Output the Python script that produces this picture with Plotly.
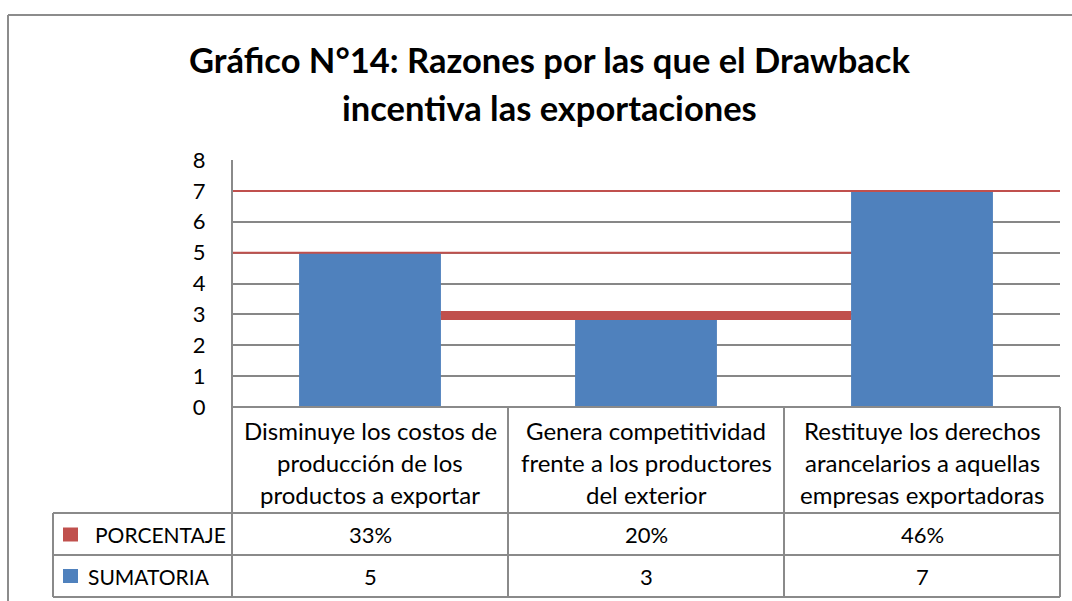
import plotly.graph_objects as go

# ---------------- data ----------------
categories = [
    "Disminuye los costos de<br>producción de los<br>productos a exportar",
    "Genera competitividad<br>frente a los productores<br>del exterior",
    "Restituye los derechos<br>arancelarios a aquellas<br>empresas exportadoras",
]
sumatoria = [5, 3, 7]
porcentaje = ["33%", "20%", "46%"]
series_names = ["PORCENTAJE", "SUMATORIA"]
y_ticks = [0, 1, 2, 3, 4, 5, 6, 7, 8]
title_lines = ["Gráfico N°14: Razones por las que el Drawback",
               "incentiva las exportaciones"]

# ---------------- style ----------------
BLUE = "#4F81BD"
RED = "#C0504D"
GRID = "#878787"
LINE = "#8A8A8A"
FONT = "Lato"
W, H = 1072, 601
L, R, T, B = 232, 1060, 160, 407
BARGAP = 0.486
HW = (1 - BARGAP) / 2
CAT_SIZE = 24
TXT_SIZE = 22


def px(x):
    return (x - L) / (R - L)


def py(y):
    return (B - y) / (B - T)


fig = go.Figure()
fig.add_trace(go.Bar(
    x=list(range(len(categories))), y=sumatoria, name=series_names[1],
    marker=dict(color=BLUE, line=dict(width=0)), showlegend=False,
    hoverinfo="skip",
))

shapes = []
ann = []

# red series lines (as drawn in the original)
n = len(sumatoria)
shapes.append(dict(type="line", xref="x", yref="y", x0=-0.5, x1=n - 0.5,
                   y0=sumatoria[2], y1=sumatoria[2], layer="above",
                   line=dict(color=RED, width=2)))
shapes.append(dict(type="line", xref="x", yref="y", x0=-0.5, x1=2 - HW,
                   y0=sumatoria[0], y1=sumatoria[0], layer="above",
                   line=dict(color=RED, width=2)))
shapes.append(dict(type="line", xref="x", yref="y", x0=0 + HW, x1=2 - HW,
                   y0=sumatoria[1] - 0.04, y1=sumatoria[1] - 0.04, layer="above",
                   line=dict(color=RED, width=9)))


def hline(y, x0, x1, color=LINE, w=2):
    shapes.append(dict(type="line", xref="paper", yref="paper",
                       x0=px(x0), x1=px(x1), y0=py(y), y1=py(y),
                       line=dict(color=color, width=w), layer="above"))


def vline(x, y0, y1, color=LINE, w=2):
    shapes.append(dict(type="line", xref="paper", yref="paper",
                       x0=px(x), x1=px(x), y0=py(y0), y1=py(y1),
                       line=dict(color=color, width=w), layer="above"))


# data table grid
hline(407, 232, 1060)
for yy in (513, 555, 597):
    hline(yy, 53, 1060)
vline(53, 513, 597)
vline(232, 160, 597)
for xx in (508, 784, 1060):
    vline(xx, 407, 597)

# outer chart border
hline(15, 8, 1080, color="#8C8C8C", w=2)
vline(8, 15, 610, color="#8C8C8C", w=2)

# legend keys
for (y0, y1), col in (((527.5, 541.5), RED), ((569, 583), BLUE)):
    shapes.append(dict(type="rect", xref="paper", yref="paper",
                       x0=px(63), x1=px(78), y0=py(y1), y1=py(y0),
                       fillcolor=col, line=dict(width=0)))

ann.append(dict(text=series_names[0], x=px(93), y=py(534), xref="paper", yref="paper",
                xanchor="left", yanchor="middle", showarrow=False,
                font=dict(family=FONT, size=21, color="black")))
ann.append(dict(text=series_names[1], x=px(86), y=py(576), xref="paper", yref="paper",
                xanchor="left", yanchor="middle", showarrow=False,
                font=dict(family=FONT, size=21, color="black")))

# category labels (one annotation per line)
line_y = [430, 462, 494]
for i, cat in enumerate(categories):
    for j, txt in enumerate(cat.split("<br>")):
        ann.append(dict(text=txt, x=i, y=py(line_y[j]), xref="x", yref="paper",
                        xanchor="center", yanchor="middle", showarrow=False,
                        font=dict(family=FONT, size=CAT_SIZE, color="black")))
    ann.append(dict(text=porcentaje[i], x=i, y=py(534), xref="x", yref="paper",
                    xanchor="center", yanchor="middle", showarrow=False,
                    font=dict(family=FONT, size=TXT_SIZE, color="black")))
    ann.append(dict(text=str(sumatoria[i]), x=i, y=py(576), xref="x", yref="paper",
                    xanchor="center", yanchor="middle", showarrow=False,
                    font=dict(family=FONT, size=TXT_SIZE, color="black")))

# title
for k, (txt, yy) in enumerate(zip(title_lines, (59, 107))):
    ann.append(dict(text="<b>" + txt + "</b>", x=px(549), y=py(yy), xref="paper",
                    yref="paper", xanchor="center", yanchor="middle", showarrow=False,
                    font=dict(family=FONT, size=34.5, color="black")))

fig.update_layout(
    width=W, height=H, autosize=False,
    margin=dict(l=L, r=W - R, t=T, b=H - B, pad=0),
    paper_bgcolor="white", plot_bgcolor="white",
    bargap=BARGAP,
    shapes=shapes, annotations=ann,
    showlegend=False,
    xaxis=dict(range=[-0.5, n - 0.5], showticklabels=False, showgrid=False,
               zeroline=False, showline=False, fixedrange=True),
    yaxis=dict(range=[0, 8], tickmode="array", tickvals=y_ticks,
               ticktext=[str(v) for v in y_ticks],
               showgrid=True, gridcolor=GRID, gridwidth=1.5, zeroline=False,
               showline=False, ticks="outside", ticklen=21, tickcolor="rgba(0,0,0,0)",
               tickfont=dict(family=FONT, size=22, color="black"), fixedrange=True),
)

fig.write_html("out.html", post_script="document.body.style.margin='0';",
               config={"displayModeBar": False})
